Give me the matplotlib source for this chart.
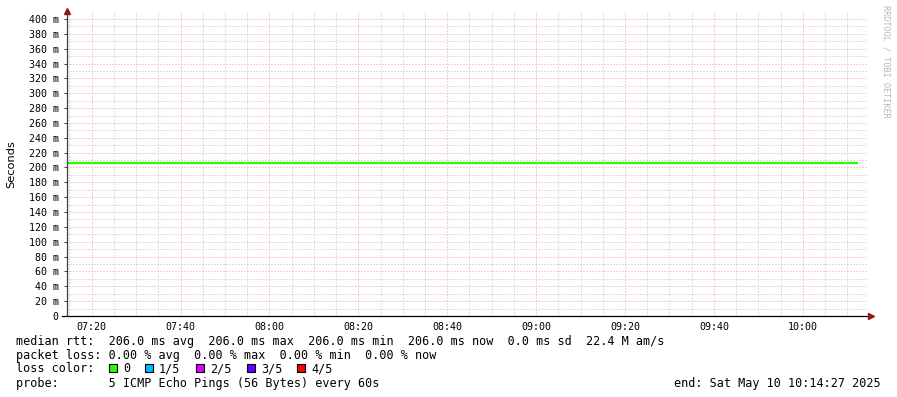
import matplotlib
matplotlib.use("Agg")
import matplotlib.pyplot as plt
import matplotlib.dates as mdates
from matplotlib.patches import Rectangle
from datetime import datetime

# data
start = "2025-05-10 07:14:27"
end = "2025-05-10 10:14:27"
rtt_times = ["2025-05-10 07:14:27", "2025-05-10 10:12:30"]
rtt_median = [0.206, 0.206]  # seconds

loss_labels = ["0", "1/5", "2/5", "3/5", "4/5"]
loss_colors = ["#26ff00", "#00b8ff", "#dd00ff", "#5e00ff", "#ff0000"]

stats_lines = [
    "median rtt:  206.0 ms avg  206.0 ms max  206.0 ms min  206.0 ms now  0.0 ms sd  22.4 M am/s",
    "packet loss: 0.00 % avg  0.00 % max  0.00 % min  0.00 % now",
]
probe_line = "probe:       5 ICMP Echo Pings (56 Bytes) every 60s"
end_line = "end: Sat May 10 10:14:27 2025"

W, H = 897, 397
mono = "DejaVu Sans Mono"

def parse(s):
    return datetime.strptime(s, "%Y-%m-%d %H:%M:%S")

fig = plt.figure(figsize=(W / 100, H / 100), dpi=100)
fig.patch.set_facecolor("white")

# plot area in pixel coords
x0, x1, ytop, ybot = 67, 867, 12, 316
ax = fig.add_axes([x0 / W, 1 - ybot / H, (x1 - x0) / W, (ybot - ytop) / H])
ax.set_facecolor("white")

t = [parse(s) for s in rtt_times]
ax.plot(t, rtt_median, color=loss_colors[0], lw=1.6, solid_capstyle="butt", zorder=3)

ax.set_xlim(parse(start), parse(end))
ax.set_ylim(0, 0.4094)

# grid
ax.xaxis.set_major_locator(mdates.MinuteLocator(byminute=[0, 20, 40]))
ax.xaxis.set_minor_locator(mdates.MinuteLocator(byminute=range(0, 60, 5)))
ax.xaxis.set_major_formatter(mdates.DateFormatter("%H:%M"))
ax.set_yticks([i * 0.02 for i in range(21)])
ax.set_yticks([i * 0.01 for i in range(41)], minor=True)
ax.set_yticklabels(["0"] + [f"{i * 20} m" for i in range(1, 21)])

ax.grid(which="minor", color="#c0c0c0", ls=(0, (1, 2)), lw=0.72, zorder=0)
ax.grid(which="major", color="#e8a0a0", ls=(0, (1, 2)), lw=0.72, zorder=1)

ax.tick_params(axis="y", which="major", length=2, width=0.72, color="#404040",
               labelsize=7.2, pad=4)
ax.tick_params(axis="x", which="major", length=0, labelsize=7.2, pad=4)
ax.tick_params(which="minor", length=0)
for lab in ax.get_xticklabels() + ax.get_yticklabels():
    lab.set_family(mono)

for sp in ax.spines.values():
    sp.set_visible(False)

# axes lines with arrows (rrdtool style)
ax.plot([-5 / (x1 - x0), 1.005], [0, 0], color="black", lw=0.9,
        transform=ax.transAxes, clip_on=False, zorder=4)
ax.plot([0, 0], [0, 1.0], color="#404040", lw=0.9,
        transform=ax.transAxes, clip_on=False, zorder=4)
ax.plot([1.005], [0], marker=">", ms=4.5, color="#8b1a1a", mec="#8b1a1a",
        transform=ax.transAxes, clip_on=False, zorder=5)
ax.plot([0], [1.0 + 1 / (ybot - ytop)], marker="^", ms=4.5, color="#8b1a1a",
        mec="#8b1a1a", transform=ax.transAxes, clip_on=False, zorder=5)

fig.text(11 / W, 1 - 164 / H, "Seconds", rotation=90, ha="center", va="center",
         fontsize=8.2, family="DejaVu Sans")

fig.text(886 / W, 1 - 5 / H, "RRDTOOL / TOBI OETIKER", rotation=270,
         ha="center", va="top", fontsize=6.1, family=mono, color="#b8b8b8")

# legend / stats
fs = 8.45
fig.text(16 / W, 1 - 341 / H, stats_lines[0], fontsize=fs, family=mono, va="center")
fig.text(16 / W, 1 - 355 / H, stats_lines[1], fontsize=fs, family=mono, va="center")
fig.text(16 / W, 1 - 369 / H, "loss color:", fontsize=fs, family=mono, va="center")
box_x = [109, 145, 196, 247, 297]
for bx, lab, col in zip(box_x, loss_labels, loss_colors):
    fig.patches.append(Rectangle((bx / W, 1 - 372 / H), 8 / W, 8 / H,
                                 transform=fig.transFigure, facecolor=col,
                                 edgecolor="black", lw=0.8))
    fig.text((bx + 14) / W, 1 - 369 / H, lab, fontsize=fs, family=mono, va="center")
fig.text(16 / W, 1 - 383 / H, probe_line, fontsize=fs, family=mono, va="center")
fig.text(881 / W, 1 - 383 / H, end_line, fontsize=fs, family=mono, va="center",
         ha="right")

fig.savefig("out.png", dpi=100)
